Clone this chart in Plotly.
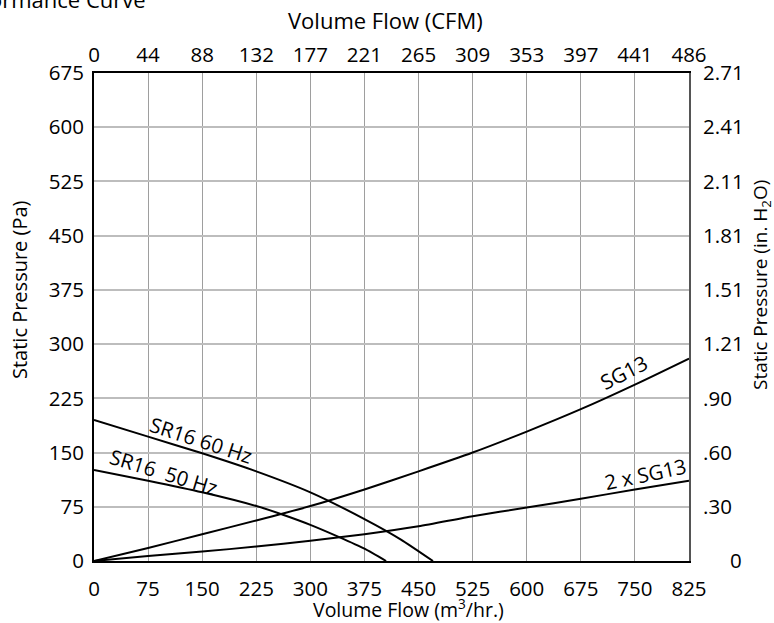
import plotly.graph_objects as go

# Flow axis ticks (m3/hr) and matching CFM labels on the top axis
flow_ticks = [0, 75, 150, 225, 300, 375, 450, 525, 600, 675, 750, 825]
cfm_labels = ["0", "44", "88", "132", "177", "221", "265", "309", "353", "397", "441", "486"]

# Pressure ticks (Pa) and matching in. H2O labels on the right axis
pa_ticks = [0, 75, 150, 225, 300, 375, 450, 525, 600, 675]
inh2o_labels = ["\u2007\u2007\u20090", ".30", ".60", ".90", "1.21", "1.51", "1.81", "2.11", "2.41", "2.71"]

# Fan curves
sr16_60_flow = [0, 75, 150, 225, 300, 375, 425, 470]
sr16_60_pa = [195, 172, 149, 124, 95, 58, 30, 0]

sr16_50_flow = [0, 75, 150, 225, 262, 300, 340, 375, 405]
sr16_50_pa = [126, 111, 95, 76, 64, 50, 33, 17, 0]

# System curves
sg13_flow = [0, 75, 150, 225, 300, 375, 450, 525, 600, 675, 750, 825]
sg13_pa = [0, 18, 37, 56, 76, 99, 124, 150, 179, 210, 244, 280]

sg13x2_flow = [0, 75, 150, 225, 300, 375, 450, 525, 600, 675, 750, 825]
sg13x2_pa = [0, 7, 13, 20, 28, 37, 48, 62, 74, 86, 99, 111]

FONT = "Open Sans, Noto Sans, sans-serif"
FS = 20.5
W, H = 774, 623
L, R, T, B = 94, 85, 73, 62

fig = go.Figure()
line = dict(color="black", width=2)
for xs, ys in [(sr16_60_flow, sr16_60_pa), (sr16_50_flow, sr16_50_pa),
               (sg13_flow, sg13_pa), (sg13x2_flow, sg13x2_pa)]:
    fig.add_trace(go.Scatter(x=xs, y=ys, mode="lines", line=dict(line, shape="spline", smoothing=0.6),
                             showlegend=False, hoverinfo="skip"))

# invisible traces to bind the secondary axes
fig.add_trace(go.Scatter(x=[0], y=[0], xaxis="x2", yaxis="y", mode="markers",
                         marker=dict(opacity=0), showlegend=False, hoverinfo="skip"))
fig.add_trace(go.Scatter(x=[0], y=[0], xaxis="x", yaxis="y2", mode="markers",
                         marker=dict(opacity=0), showlegend=False, hoverinfo="skip"))

tickfont = dict(family=FONT, size=FS, color="black")

fig.update_layout(
    width=W, height=H,
    margin=dict(l=L, r=R, t=T, b=B),
    plot_bgcolor="white", paper_bgcolor="white",
    font=dict(family=FONT, size=FS, color="black"),
    xaxis=dict(range=[0, 825], tickvals=flow_ticks, ticktext=[str(v) for v in flow_ticks],
               showgrid=True, gridcolor="#9e9e9e", gridwidth=1, zeroline=False,
               showline=True, linecolor="black", linewidth=2, mirror=True,
               ticks="", tickfont=tickfont, ticklabelstandoff=8),
    xaxis2=dict(range=[0, 825], overlaying="x", side="top", tickvals=flow_ticks, ticktext=cfm_labels,
                showgrid=False, zeroline=False, showline=False, ticks="", tickfont=tickfont,
                ticklabelstandoff=6),
    yaxis=dict(range=[0, 675], tickvals=pa_ticks, ticktext=[str(v) for v in pa_ticks],
               showgrid=True, gridcolor="#bdbdbd", gridwidth=1.5, zeroline=False,
               showline=True, linecolor="black", linewidth=2,
               ticks="", tickfont=tickfont, ticklabelstandoff=4),
    yaxis2=dict(range=[0, 675], overlaying="y", side="right", tickvals=pa_ticks, ticktext=inh2o_labels,
                showgrid=False, zeroline=False, showline=True, linecolor="#555555", linewidth=2,
                ticks="", tickfont=tickfont, ticklabelstandoff=8),
)

def px_x(p):
    return (p - L) / (W - L - R)

def px_y(p):
    return (H - B - p) / (H - T - B)

def label(text, x, y, angle=0, size=20, xanchor="center"):
    return dict(text=text, xref="paper", yref="paper", x=px_x(x), y=px_y(y),
                xanchor=xanchor, yanchor="middle", showarrow=False, textangle=angle,
                font=dict(size=size))

ann = [
    label("Volume Flow (CFM)", 385, 20, size=22),
    label("Volume Flow (m<sup>3</sup>/hr.)", 408, 608, size=19.5),
    label("Static Pressure (Pa)", 19, 290, -90, size=20),
    label("Static Pressure (in. H<sub>2</sub>O)", 761, 285, -90, size=19),
    label("Performance Curve", 148, -1, size=22, xanchor="right"),
]
# curve labels
ann.append(dict(text="SR16 60 Hz", x=149, y=167, showarrow=False, textangle=18, font=dict(size=FS)))
ann.append(dict(text="SR16\u00a0\u00a050 Hz", x=97, y=123, showarrow=False, textangle=17, font=dict(size=FS)))
ann.append(dict(text="SG13", x=735, y=261, showarrow=False, textangle=-27, font=dict(size=FS)))
ann.append(dict(text="2 x SG13", x=764, y=120, showarrow=False, textangle=-12, font=dict(size=FS)))
fig.update_layout(annotations=ann)

fig.write_html("out.html")
